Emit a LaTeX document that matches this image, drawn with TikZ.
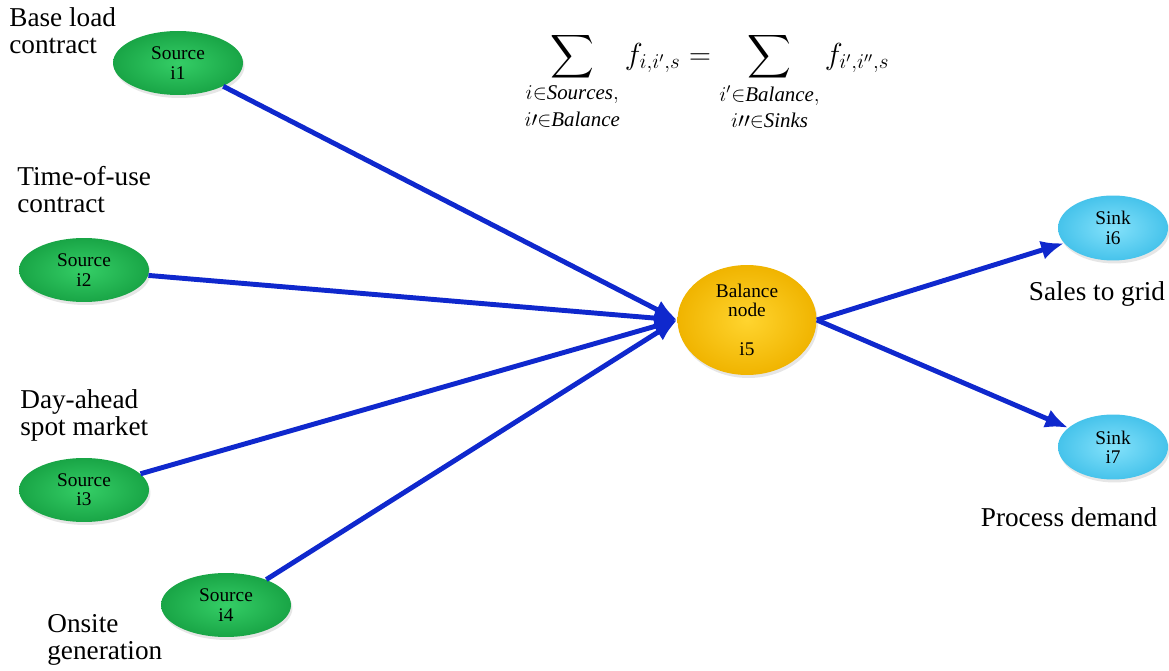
\documentclass[tikz,border=0pt]{standalone}
\usepackage{amsmath}
\usepackage{fontspec}
\setmainfont{Liberation Serif}
\usetikzlibrary{arrows.meta, shapes.geometric, shadows}

\definecolor{srcgreen}{RGB}{30,200,85}
\definecolor{srcdark}{RGB}{25,165,70}
\definecolor{balyellow}{RGB}{255,205,10}
\definecolor{baldark}{RGB}{240,180,0}
\definecolor{sinkblue}{RGB}{110,220,250}
\definecolor{sinkdark}{RGB}{70,195,235}
\definecolor{flowblue}{RGB}{15,40,205}

\tikzset{
  source/.style={ellipse, draw=none, inner color=srcgreen!90!white, outer color=srcdark,
    minimum width=2.6cm, minimum height=1.28cm, align=center, inner sep=0pt,
    font=\fontsize{11}{11}\selectfont, drop shadow={opacity=0.2, shadow xshift=0.03cm, shadow yshift=-0.06cm}},
  balance/.style={source, inner color=balyellow!85!white, outer color=baldark,
    minimum width=2.78cm, minimum height=2.2cm},
  sink/.style={source, inner color=sinkblue!85!white, outer color=sinkdark,
    minimum width=2.2cm, minimum height=1.3cm},
  label/.style={align=left, anchor=west, inner sep=0pt, font=\fontsize{15.5}{15.4}\selectfont},
  flow/.style={draw=flowblue, line width=2.8pt, -{Latex[length=13pt,width=11pt]}}
}

\begin{document}
\begin{tikzpicture}[x=0.02cm, y=-0.02cm]
            \useasboundingbox (0,0) rectangle (1169,671);

            \node[source] (i1) at (178,63) {Source\\i1};
            \node[source] (i2) at (84,270) {Source\\i2};
            \node[source] (i3) at (84,490) {Source\\i3};
            \node[source] (i4) at (226,605) {Source\\i4};
            \node[balance] (i5) at (747,320) {Balance\\node\\[11pt]i5};
            \node[sink] (i6) at (1113,228) {Sink\\i6};
            \node[sink] (i7) at (1113,447) {Sink\\i7};

            \node[label] (l1) at (9,31) {Base load\\contract};
            \node[label] (l2) at (17,190) {Time-of-use\\contract};
            \node[label] (l3) at (20,415) {Day-ahead\\spot market};
            \node[label] (l4) at (47,640) {Onsite\\generation};
            \node[label, anchor=center] (l6) at (1097,294) {Sales to grid};
            \node[label, anchor=center] (l7) at (1069,517) {Process demand};

            \node[font=\fontsize{17}{20}\selectfont] (eq) at (707,82)
              {$\displaystyle\sum_{\substack{i\in \mathit{Sources},\\[3pt] i\prime\in \mathit{Balance}}} f_{i,i',s}
               = \sum_{\substack{i'\in \mathit{Balance},\\[3pt] i\prime\prime\in \mathit{Sinks}}} f_{i',i'',s}$};

            \draw[flow] (i1) -- (i5.west);
            \draw[flow] (i2) -- (i5.west);
            \draw[flow] (i3) -- (i5.west);
            \draw[flow] (i4) -- (i5.west);
            \draw[flow] (i5.east) -- (i6);
            \draw[flow] (i5.east) -- (i7);
        \end{tikzpicture}
\end{document}
